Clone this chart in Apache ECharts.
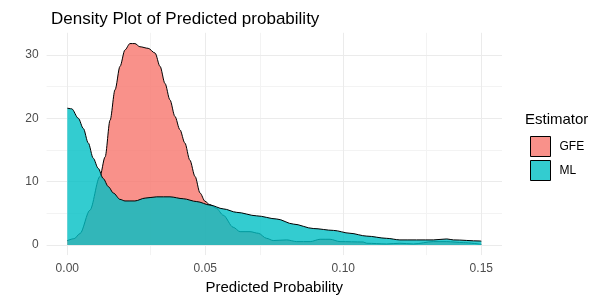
<!DOCTYPE html>
<html>
<head>
<meta charset="utf-8">
<script src="https://cdn.jsdelivr.net/npm/echarts@6/dist/echarts.min.js"></script>
<style>html,body{margin:0;padding:0;background:#fff}#c{width:600px;height:300px}</style>
</head>
<body>
<div id="c"></div>
<script>
// ---- data ----
const gfeX = [0, 0.0025, 0.0046, 0.0082, 0.0118, 0.0137, 0.0155, 0.0173, 0.0191, 0.0209, 0.0227, 0.0245, 0.0263, 0.0293, 0.0318, 0.0336, 0.0354, 0.0372, 0.039, 0.0408, 0.0426, 0.0444, 0.0463, 0.0481, 0.0499, 0.0515, 0.054, 0.0565, 0.0601, 0.0626, 0.0662, 0.0692, 0.0722, 0.0746, 0.0795, 0.0831, 0.088, 0.0916, 0.0952, 0.0988, 0.1072, 0.1085, 0.1157, 0.1205, 0.1254, 0.1326, 0.1375, 0.1435, 0.15];
const gfeY = [0.68, 1.0, 1.8, 5.5, 10.8, 13.9, 19.7, 24.5, 28.2, 30.8, 31.8, 31.8, 31.3, 31.05, 30.3, 28.2, 25.5, 22.9, 20.3, 18.2, 16.1, 13.4, 10.8, 8.2, 6.9, 6.4, 5.8, 4.7, 2.8, 2.1, 2.1, 1.85, 1.05, 0.7, 0.8, 0.53, 0.53, 0.9, 0.9, 0.53, 0.47, 0.27, 0.16, 0.27, 0.16, 0.53, 0.53, 0.37, 0.1];
const mlX = [0, 0.0016, 0.004, 0.0058, 0.0076, 0.0094, 0.0112, 0.013, 0.0149, 0.0167, 0.0191, 0.0209, 0.0245, 0.0282, 0.0324, 0.0372, 0.042, 0.0469, 0.0517, 0.0565, 0.0614, 0.0686, 0.0759, 0.0819, 0.0891, 0.0964, 0.1024, 0.1085, 0.1157, 0.1205, 0.1326, 0.1375, 0.1399, 0.1495, 0.15];
const mlY = [21.6, 21.5, 20.0, 18.4, 16.1, 13.7, 12.1, 10.5, 9.2, 8.2, 7.2, 6.95, 6.95, 7.4, 7.6, 7.6, 7.3, 6.85, 6.3, 5.7, 5.15, 4.6, 4.1, 3.3, 2.6, 2.3, 1.85, 1.4, 1.05, 0.8, 0.8, 0.95, 0.8, 0.63, 0.6];
const seriesNames = ['GFE', 'ML'];
const xTicks = [0, 0.05, 0.10, 0.15];
const xMinor = [0.025, 0.075, 0.125];
const yTicks = [0, 10, 20, 30];
const yMinor = [5, 15, 25];
// ---------------------------------------

const zip = (xs, ys) => xs.map((x, i) => [x, ys[i]]);
const FONT = 'Liberation Sans, Arial, sans-serif';
const gfeFill = 'rgba(248,118,109,0.8)';
const mlFill = 'rgba(0,191,196,0.8)';

const gridLines = [].concat(
  xMinor.map(v => ({xAxis: v, lineStyle: {color: '#F3F3F3', width: 1, type: 'solid'}})),
  yMinor.map(v => ({yAxis: v, lineStyle: {color: '#F3F3F3', width: 1, type: 'solid'}})),
  xTicks.map(v => ({xAxis: v, lineStyle: {color: '#EBEBEB', width: 1, type: 'solid'}})),
  yTicks.map(v => ({yAxis: v, lineStyle: {color: '#EBEBEB', width: 1, type: 'solid'}}))
);

const chart = echarts.init(document.getElementById('c'), null, {renderer: 'canvas'});
chart.setOption({
  animation: false,
  backgroundColor: '#fff',
  title: {
    text: 'Density Plot of Predicted probability',
    left: 46, top: 6,
    textStyle: {fontFamily: FONT, fontSize: 17, fontWeight: 'normal', color: '#000'}
  },
  grid: {left: 46.6, top: 32.8, width: 455.4, height: 222.3, containLabel: false, outerBoundsMode: 'none'},
  xAxis: {
    type: 'value', min: -0.0075, max: 0.1575,
    axisLine: {show: false}, axisTick: {show: false}, splitLine: {show: false},
    axisLabel: {
      customValues: xTicks,
      formatter: v => v.toFixed(2),
      fontFamily: FONT, fontSize: 12, color: '#4D4D4D', margin: 8
    },
    name: 'Predicted Probability', nameLocation: 'middle', nameGap: 23,
    nameTextStyle: {fontFamily: FONT, fontSize: 15, color: '#000'}
  },
  yAxis: {
    type: 'value', min: -1.6, max: 33.5,
    axisLine: {show: false}, axisTick: {show: false}, splitLine: {show: false},
    axisLabel: {
      customValues: yTicks,
      formatter: v => String(v),
      fontFamily: FONT, fontSize: 12, color: '#4D4D4D', margin: 8
    }
  },
  legend: {
    orient: 'vertical', left: 525, top: 131,
    itemWidth: 20, itemHeight: 20, itemGap: 3,
    icon: 'rect',
    selectedMode: false,
    textStyle: {fontFamily: FONT, fontSize: 12, color: '#000', padding: [0, 0, 0, 4]},
    data: [
      {name: 'GFE', itemStyle: {color: gfeFill, borderColor: '#000', borderWidth: 1}},
      {name: 'ML', itemStyle: {color: mlFill, borderColor: '#000', borderWidth: 1}}
    ]
  },
  graphic: [{
    type: 'text', left: 525, top: 112,
    style: {text: 'Estimator', fontFamily: FONT, fontSize: 15, fill: '#000'}
  }],
  series: [
    {
      name: 'grid', type: 'line', data: [], silent: true, z: 0,
      markLine: {silent: true, z: 0, symbol: 'none', label: {show: false}, animation: false, data: gridLines}
    },
    {
      name: seriesNames[0], type: 'line', z: 10,
      data: zip(gfeX, gfeY),
      showSymbol: false, smooth: 0.3, smoothMonotone: 'x',
      color: gfeFill,
      lineStyle: {color: '#000', width: 1},
      areaStyle: {color: gfeFill, opacity: 1}
    },
    {
      name: seriesNames[1], type: 'line', z: 11,
      data: zip(mlX, mlY),
      showSymbol: false, smooth: 0.3, smoothMonotone: 'x',
      color: mlFill,
      lineStyle: {color: '#000', width: 1},
      areaStyle: {color: mlFill, opacity: 1}
    }
  ]
});
</script>
</body>
</html>
